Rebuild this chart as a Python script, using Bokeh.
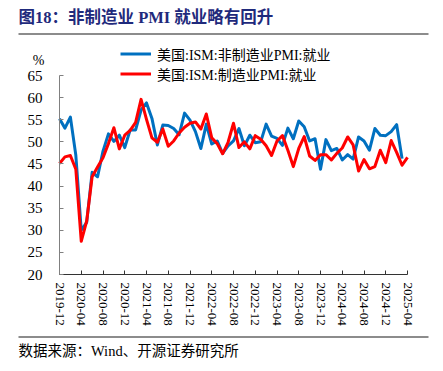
from bokeh.plotting import figure
from bokeh.models import (Range1d, FixedTicker, Label, BoxAnnotation, Legend, LegendItem)
from bokeh.embed import file_html
from bokeh.resources import INLINE

months = ["2019-12",
          "2020-01", "2020-02", "2020-03", "2020-04", "2020-05", "2020-06",
          "2020-07", "2020-08", "2020-09", "2020-10", "2020-11", "2020-12",
          "2021-01", "2021-02", "2021-03", "2021-04", "2021-05", "2021-06",
          "2021-07", "2021-08", "2021-09", "2021-10", "2021-11", "2021-12",
          "2022-01", "2022-02", "2022-03", "2022-04", "2022-05", "2022-06",
          "2022-07", "2022-08", "2022-09", "2022-10", "2022-11", "2022-12",
          "2023-01", "2023-02", "2023-03", "2023-04", "2023-05", "2023-06",
          "2023-07", "2023-08", "2023-09", "2023-10", "2023-11", "2023-12",
          "2024-01", "2024-02", "2024-03", "2024-04", "2024-05", "2024-06",
          "2024-07", "2024-08", "2024-09", "2024-10", "2024-11", "2024-12",
          "2025-01", "2025-02", "2025-03", "2025-04"]

# ISM non-manufacturing (services) employment, 2019-12 .. 2025-03
services_emp = [55.2,
                53.1, 55.6, 47.0, 30.0, 31.8, 43.1,
                42.1, 47.9, 51.8, 50.1, 51.5, 48.7,
                52.7, 52.7, 57.2, 58.8, 55.3, 49.3,
                53.8, 53.7, 53.0, 51.6, 56.5, 54.9,
                52.3, 48.5, 54.0, 49.5, 50.2, 47.4,
                49.1, 50.2, 53.0, 49.1, 51.5, 49.8,
                50.0, 54.0, 51.3, 50.8, 49.2, 53.1,
                50.7, 54.7, 53.4, 50.2, 50.7, 43.8,
                50.5, 48.0, 48.5, 45.9, 47.1, 46.1,
                51.1, 50.2, 48.1, 53.0, 51.5, 51.4,
                52.3, 53.9, 46.2]

# ISM manufacturing employment, 2019-12 .. 2025-04
manuf_emp = [45.1,
             46.6, 46.9, 43.8, 27.5, 32.1, 42.1,
             44.3, 46.4, 49.6, 53.2, 48.4, 51.5,
             52.6, 54.4, 59.6, 55.1, 50.9, 49.9,
             52.9, 49.0, 50.2, 52.0, 53.3, 54.2,
             54.5, 52.9, 56.3, 50.9, 49.6, 47.3,
             49.9, 54.2, 48.7, 50.0, 48.4, 51.4,
             50.6, 49.1, 46.9, 50.2, 51.4, 48.1,
             44.4, 48.5, 51.2, 46.8, 45.8, 47.1,
             47.1, 45.9, 47.4, 48.6, 51.1, 49.3,
             43.4, 46.0, 43.9, 44.4, 48.1, 45.3,
             50.3, 47.6, 44.7, 46.5]

series_names = ["美国:ISM:非制造业PMI:就业", "美国:ISM:制造业PMI:就业"]
y_ticks = [20, 25, 30, 35, 40, 45, 50, 55, 60, 65]
x_tick_labels = months[::4]

title_text = "图18：非制造业 PMI 就业略有回升"
source_text = "数据来源：Wind、开源证券研究所"

SERIF = "Liberation Serif, Noto Sans CJK SC"
BLUE = "#0070C0"
RED = "#FF0000"

W, H = 443, 371
# page pixel geometry of the plotting area (axis corner and ends)
AX_L, AX_R, AX_T, AX_B = 59.0, 407.0, 75.0, 274.0
n_last = len(months) - 1
y_lo, y_hi = y_ticks[0], y_ticks[-1]
kx = (AX_R - AX_L) / n_last
ky = (AX_B - AX_T) / (y_hi - y_lo)
x_range = Range1d(-AX_L / kx, n_last + (W - AX_R) / kx)
y_range = Range1d(y_lo - (H - AX_B) / ky, y_hi + AX_T / ky)

p = figure(width=W, height=H, output_backend="svg", toolbar_location=None,
           x_range=x_range, y_range=y_range,
           min_border_left=0, min_border_right=0, min_border_top=0,
           min_border_bottom=0)
p.background_fill_color = "white"
p.border_fill_color = "white"
p.outline_line_color = None
p.grid.visible = False

xs_s = list(range(len(services_emp)))
xs_m = list(range(len(manuf_emp)))
r_s = p.line(xs_s, services_emp, line_color=BLUE, line_width=3, line_join="round")
r_m = p.line(xs_m, manuf_emp, line_color=RED, line_width=3, line_join="round")

# axes, pinned at the data corner
yax = p.yaxis[0]
yax.fixed_location = 0
yax.bounds = (y_lo, y_hi)
yax.ticker = FixedTicker(ticks=y_ticks)
yax.axis_line_color = "#808080"
yax.major_tick_line_color = "#808080"
yax.major_tick_in = 4
yax.major_tick_out = 0
yax.minor_tick_line_color = None
yax.major_label_text_font = SERIF
yax.major_label_text_font_size = "15px"
yax.major_label_text_color = "black"
yax.major_label_standoff = 17

xax = p.xaxis[0]
xax.fixed_location = y_lo
xax.bounds = (0, n_last)
xtick_pos = list(range(0, len(months), 4))
xax.ticker = FixedTicker(ticks=xtick_pos)
xax.major_label_overrides = {i: lab for i, lab in zip(xtick_pos, x_tick_labels)}
xax.major_label_orientation = "vertical"
xax.axis_line_color = "#333333"
xax.major_tick_line_color = "#333333"
xax.major_tick_in = 4
xax.major_tick_out = 0
xax.minor_tick_line_color = None
xax.major_label_text_font = SERIF
xax.major_label_text_font_size = "13px"
xax.major_label_text_color = "black"
xax.major_label_standoff = 8

# screen coordinates relative to the frame (which is the whole canvas)
def sx(px):
    return px

def sy(py):
    return H - py

p.add_layout(Label(x=sx(18), y=sy(16.5), x_units="screen", y_units="screen",
                   text=title_text, text_font=SERIF, text_font_size="16.5px",
                   text_font_style="bold", text_color="#1F2A7C",
                   text_baseline="middle", text_align="left"))
p.add_layout(BoxAnnotation(left=sx(18), right=sx(428), top=sy(32.5), bottom=sy(34.5),
                           left_units="screen", right_units="screen",
                           top_units="screen", bottom_units="screen",
                           fill_color="#8C8C8C", fill_alpha=1, line_alpha=0))
p.add_layout(Label(x=sx(38), y=sy(60), x_units="screen", y_units="screen",
                   text="%", text_font=SERIF, text_font_size="14px",
                   text_color="black", text_baseline="middle", text_align="center"))
p.add_layout(BoxAnnotation(left=sx(18), right=sx(428), top=sy(335.5), bottom=sy(337.5),
                           left_units="screen", right_units="screen",
                           top_units="screen", bottom_units="screen",
                           fill_color="#8C8C8C", fill_alpha=1, line_alpha=0))
p.add_layout(Label(x=sx(18), y=sy(350.5), x_units="screen", y_units="screen",
                   text=source_text, text_font=SERIF, text_font_size="14.5px",
                   text_color="black", text_baseline="middle", text_align="left"))

legend = Legend(items=[LegendItem(label=series_names[0], renderers=[r_s]),
                       LegendItem(label=series_names[1], renderers=[r_m])],
                location=(sx(120), sy(83.5)), orientation="vertical",
                glyph_width=31, glyph_height=15, label_height=15,
                label_standoff=6, spacing=0, padding=0, margin=0,
                label_text_font=SERIF, label_text_font_size="14px",
                label_text_color="black", border_line_color=None,
                background_fill_alpha=0)
p.add_layout(legend, "center")

open("out.html", "w").write(file_html(p, INLINE))
